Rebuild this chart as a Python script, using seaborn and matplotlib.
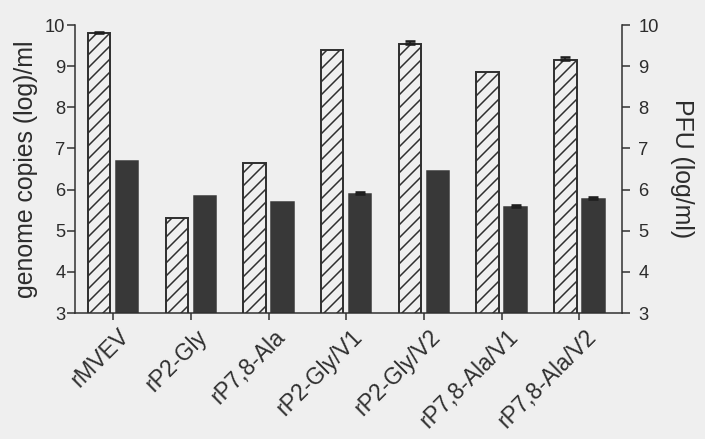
import matplotlib
matplotlib.use("Agg")
import matplotlib.pyplot as plt
import matplotlib.transforms as mtransforms
import numpy as np
import pandas as pd
import seaborn as sns

# Virus strains and measured titres (log10 per ml)
strains = ["rMVEV", "rP2-Gly", "rP7,8-Ala", "rP2-Gly/V1", "rP2-Gly/V2",
           "rP7,8-Ala/V1", "rP7,8-Ala/V2"]
genome_log = [9.8, 5.3, 6.65, 9.4, 9.55, 8.85, 9.15]
genome_sd = [0.04, 0.0, 0.0, 0.0, 0.05, 0.0, 0.07]
pfu_log = [6.7, 5.85, 5.7, 5.9, 6.45, 5.57, 5.78]
pfu_sd = [0.0, 0.0, 0.0, 0.03, 0.0, 0.05, 0.03]
y_ticks = [3, 4, 5, 6, 7, 8, 9, 10]

BG = "#efefef"
INK = "#2f2f2f"
DARK = "#383838"
TXT = "#2c2c2c"

df = pd.DataFrame({
    "strain": strains * 2,
    "assay": ["genome"] * len(strains) + ["pfu"] * len(strains),
    "value": genome_log + pfu_log,
})

sns.set_theme(style="ticks")
plt.rcParams["font.family"] = ["Liberation Sans", "DejaVu Sans"]
plt.rcParams["hatch.linewidth"] = 1.4
plt.rcParams["hatch.color"] = INK

DPI = 78
fig = plt.figure(figsize=(705 / DPI, 439 / DPI), dpi=DPI, facecolor=BG)
ax = fig.add_axes([0.1064, 0.287, 0.776, 0.656])
ax.set_facecolor(BG)

sns.barplot(data=df, x="strain", y="value", hue="assay",
            palette={"genome": BG, "pfu": DARK}, width=0.72, gap=0.2,
            errorbar=None, legend=False, ax=ax, linewidth=1.4)

genome_bars, pfu_bars = ax.containers[0], ax.containers[1]
for p in genome_bars:
    p.set_hatch("//")
    p.set_edgecolor(INK)
    p.set_linewidth(1.8)
for p in pfu_bars:
    p.set_edgecolor(DARK)

# Small error bars on the bars that carry one
for bars, vals, sds in ((genome_bars, genome_log, genome_sd),
                        (pfu_bars, pfu_log, pfu_sd)):
    xs = [p.get_x() + p.get_width() / 2 for p, s in zip(bars, sds) if s > 0]
    ys = [v for v, s in zip(vals, sds) if s > 0]
    es = [s for s in sds if s > 0]
    ax.errorbar(xs, ys, yerr=[np.zeros(len(es)), es], fmt="none",
                ecolor="#1e1e1e", elinewidth=1.6, capsize=5, capthick=2.4,
                zorder=3)

ax.set_ylim(3, 10)
ax.set_xlim(-0.49, 6.55)
ax.set_yticks(y_ticks)
ax.set_xticks(range(len(strains)))
ax.set_xticklabels(strains, rotation=45, ha="right", rotation_mode="anchor",
                   fontsize=21, color=TXT)
ax.set_xlabel("")
ax.set_ylabel("genome copies (log)/ml", fontsize=23, color=TXT,
              labelpad=6)
ax.tick_params(axis="y", labelsize=17, length=7, width=1.4, pad=2,
               colors=INK, labelcolor=TXT)
ax.tick_params(axis="x", length=6, width=1.4, pad=5, colors=INK)
for lbl in ax.get_xticklabels():
    lbl.set_transform(lbl.get_transform() + mtransforms.ScaledTranslation(
        5 / DPI, 0, fig.dpi_scale_trans))

for side in ("top", "right"):
    ax.spines[side].set_visible(False)
for side in ("left", "bottom"):
    ax.spines[side].set_color(INK)
    ax.spines[side].set_linewidth(1.4)

# PFU scale on the right
ax2 = ax.twinx()
ax2.set_ylim(3, 10)
ax2.set_yticks(y_ticks)
ax2.tick_params(axis="y", labelsize=17, length=7, width=1.4, pad=8,
                colors=INK, labelcolor=TXT)
ax2.set_ylabel("PFU (log/ml)", fontsize=23, rotation=-90, va="bottom",
               color=TXT, labelpad=10)
for side in ("top", "left", "bottom"):
    ax2.spines[side].set_visible(False)
ax2.spines["right"].set_color(INK)
ax2.spines["right"].set_linewidth(1.4)

fig.savefig("out.png", dpi=DPI, facecolor=BG)
